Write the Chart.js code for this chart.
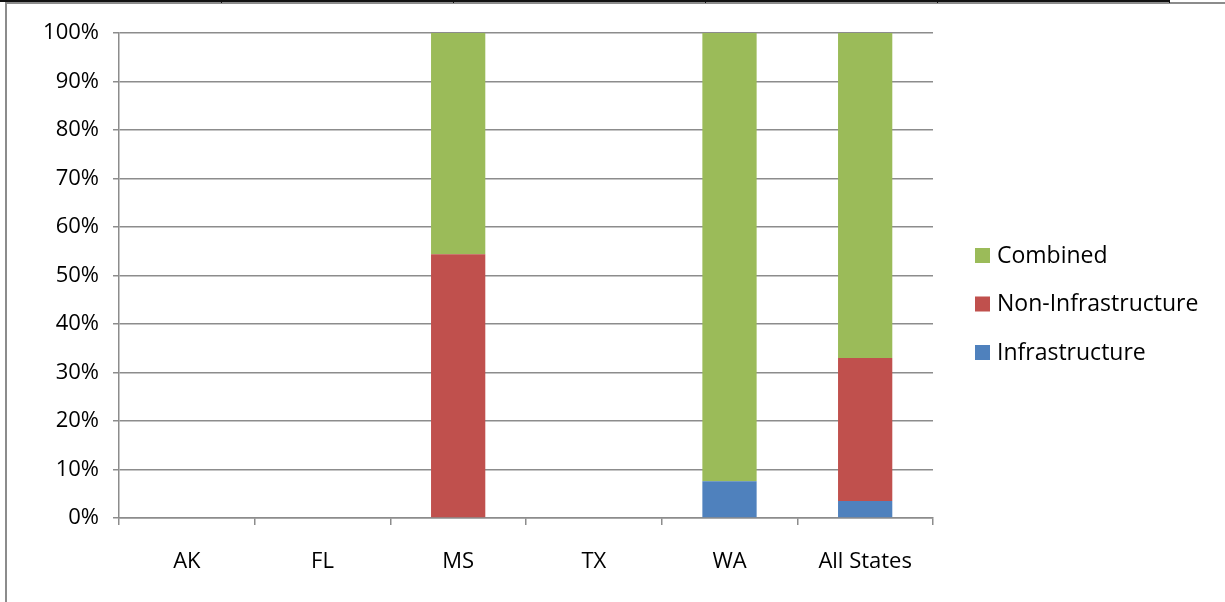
<!DOCTYPE html>
<html>
<head>
<meta charset="utf-8">
<script src="https://cdn.jsdelivr.net/npm/chart.js@4"></script>
<style>
    html, body { margin: 0; padding: 0; background: #fff; }
    #wrap { position: relative; width: 1225px; height: 602px; overflow: hidden; }
    #chart { position: absolute; left: 0; top: 0; }
    .line { position: absolute; }
</style>
</head>
<body>
<div id="wrap">
    <canvas id="chart" width="1225" height="602"></canvas>
    <!-- borda da tabela acima do gráfico -->
    <div class="line" style="left:0;top:0;width:1170px;height:2px;background:#111;"></div>
    <div class="line" style="left:5px;top:2px;width:1220px;height:2px;background:#8c8c8c;"></div>
    <div class="line" style="left:5px;top:2px;width:2px;height:600px;background:#8c8c8c;"></div>
    <div class="line" style="left:221px;top:0;width:1px;height:3px;background:#111;"></div>
    <div class="line" style="left:453px;top:0;width:1px;height:3px;background:#111;"></div>
    <div class="line" style="left:705px;top:0;width:1px;height:3px;background:#111;"></div>
    <div class="line" style="left:937px;top:0;width:1px;height:3px;background:#111;"></div>
    <div class="line" style="left:1169px;top:0;width:1px;height:3px;background:#111;"></div>
</div>
<script>
const categories = ["AK", "FL", "MS", "TX", "WA", "All States"];
const infrastructure = [0, 0, 0, 0, 7.6, 3.5];
const nonInfrastructure = [0, 0, 54.4, 0, 0, 29.5];
const combined = [0, 0, 45.6, 0, 92.4, 67.0];
const yTicks = [0, 10, 20, 30, 40, 50, 60, 70, 80, 90, 100];

const fontFamily = "'Open Sans', 'Noto Sans', sans-serif";
const gridColor = "#8c8c8c";

// Legenda desenhada à mão (ordem invertida, como no Excel)
const sideLegend = {
    id: "sideLegend",
    afterDraw(chart) {
        const ctx = chart.ctx;
        const items = chart.data.datasets.slice().reverse();
        ctx.save();
        ctx.font = "23px " + fontFamily;
        ctx.textBaseline = "middle";
        ctx.textAlign = "left";
        items.forEach((ds, i) => {
            const y = 255 + i * 48.5;
            ctx.fillStyle = ds.backgroundColor;
            ctx.fillRect(975, y - 7, 15, 15);
            ctx.fillStyle = "#000";
            ctx.fillText(ds.label, 997, y + 1);
        });
        ctx.restore();
    }
};

new Chart(document.getElementById("chart"), {
    type: "bar",
    data: {
        labels: categories,
        datasets: [
            { label: "Infrastructure", data: infrastructure, backgroundColor: "#4F81BD" },
            { label: "Non-Infrastructure", data: nonInfrastructure, backgroundColor: "#C0504D" },
            { label: "Combined", data: combined, backgroundColor: "#9BBB59" }
        ]
    },
    options: {
        responsive: false,
        animation: false,
        devicePixelRatio: 1,
        layout: { padding: { left: 0, right: 292, top: 33, bottom: 0 } },
        datasets: { bar: { categoryPercentage: 1, barPercentage: 0.4 } },
        plugins: {
            legend: { display: false },
            tooltip: { enabled: false }
        },
        scales: {
            x: {
                stacked: true,
                offset: true,
                grid: {
                    offset: true,
                    drawOnChartArea: false,
                    drawTicks: true,
                    tickLength: 7,
                    color: gridColor,
                    lineWidth: 1.5
                },
                border: { color: gridColor, width: 1.5 },
                ticks: {
                    color: "#000",
                    padding: 24,
                    font: { family: fontFamily, size: 22 }
                },
                afterFit(scale) { scale.height = 84; }
            },
            y: {
                stacked: true,
                min: 0,
                max: 100,
                afterBuildTicks(scale) {
                    scale.ticks = yTicks.map(v => ({ value: v }));
                },
                grid: {
                    color: gridColor,
                    lineWidth: 1.5,
                    drawTicks: true,
                    tickLength: 6
                },
                border: { color: gridColor, width: 1.5 },
                ticks: {
                    color: "#000",
                    padding: 14,
                    font: { family: fontFamily, size: 22 },
                    callback: v => v + "%"
                },
                afterFit(scale) { scale.width = 119; }
            }
        }
    },
    plugins: [sideLegend]
});
</script>
</body>
</html>
